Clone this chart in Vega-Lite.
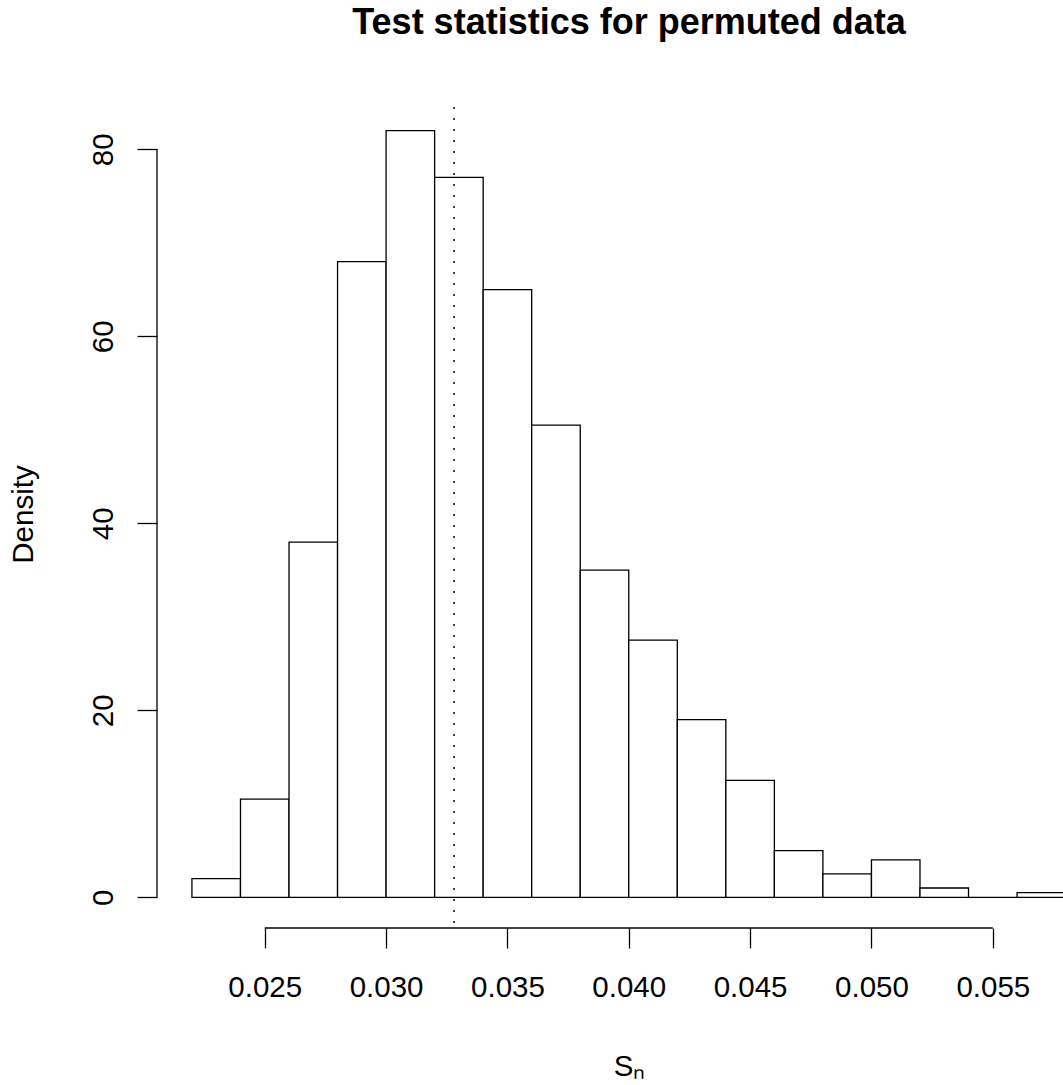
{
  "$schema": "https://vega.github.io/schema/vega-lite/v6.json",
  "width": 906,
  "height": 828,
  "autosize": {"type": "none"},
  "padding": {"left": 157, "top": 100, "right": 0, "bottom": 157},
  "background": "white",
  "config": {
    "font": "Liberation Sans",
    "view": {"stroke": null},
    "axis": {"grid": false, "domain": false, "labelColor": "black", "titleColor": "black", "tickColor": "black"}
  },
  "title": {
    "text": "Test statistics for permuted data",
    "fontSize": 36,
    "fontWeight": "bold",
    "color": "black",
    "anchor": "middle",
    "baseline": "alphabetic",
    "offset": 29,
    "dx": 19
  },
  "datasets": {
    "bins": [
      {"start": 0.022, "end": 0.024, "density": 2},
      {"start": 0.024, "end": 0.026, "density": 10.5},
      {"start": 0.026, "end": 0.028, "density": 38},
      {"start": 0.028, "end": 0.030, "density": 68},
      {"start": 0.030, "end": 0.032, "density": 82},
      {"start": 0.032, "end": 0.034, "density": 77},
      {"start": 0.034, "end": 0.036, "density": 65},
      {"start": 0.036, "end": 0.038, "density": 50.5},
      {"start": 0.038, "end": 0.040, "density": 35},
      {"start": 0.040, "end": 0.042, "density": 27.5},
      {"start": 0.042, "end": 0.044, "density": 19},
      {"start": 0.044, "end": 0.046, "density": 12.5},
      {"start": 0.046, "end": 0.048, "density": 5},
      {"start": 0.048, "end": 0.050, "density": 2.5},
      {"start": 0.050, "end": 0.052, "density": 4},
      {"start": 0.052, "end": 0.054, "density": 1},
      {"start": 0.054, "end": 0.056, "density": 0},
      {"start": 0.056, "end": 0.058, "density": 0.5}
    ],
    "xaxis": [{"from": 0.025, "to": 0.055}],
    "yaxis": [{"from": 0, "to": 80}],
    "observed": [{"stat": 0.0328}]
  },
  "layer": [
    {
      "data": {"name": "bins"},
      "mark": {"type": "rect", "fill": "white", "stroke": "black", "strokeWidth": 1.3, "clip": true},
      "encoding": {
        "x": {
          "field": "start",
          "type": "quantitative",
          "scale": {"domain": [0.02056, 0.057893], "nice": false, "zero": false},
          "axis": {
            "values": [0.025, 0.03, 0.035, 0.04, 0.045, 0.05, 0.055],
            "format": ".3f",
            "tickSize": 20,
            "tickWidth": 1.3,
            "labelFontSize": 29.5,
            "labelBaseline": "alphabetic",
            "labelPadding": 48,
            "labelFlush": false,
            "labelOverlap": false,
            "title": "Sₙ",
            "titleFontSize": 29.5,
            "titleFontWeight": "normal",
            "titleBaseline": "alphabetic",
            "titleAlign": "center",
            "titleX": 472,
            "titleY": 147
          }
        },
        "x2": {"field": "end"},
        "y": {
          "field": "density",
          "type": "quantitative",
          "scale": {"domain": [-3.28, 85.28], "nice": false, "zero": false},
          "axis": {
            "values": [0, 20, 40, 60, 80],
            "tickSize": 20,
            "tickWidth": 1.3,
            "labelFontSize": 29.5,
            "labelAngle": -90,
            "labelAlign": "center",
            "labelBaseline": "alphabetic",
            "labelPadding": 25,
            "labelOverlap": false,
            "title": "Density",
            "titleFontSize": 29.5,
            "titleFontWeight": "normal",
            "titleAngle": -90,
            "titleBaseline": "alphabetic",
            "titleAlign": "center",
            "titleX": -125,
            "titleY": 414
          }
        },
        "y2": {"datum": 0}
      }
    },
    {
      "data": {"name": "xaxis"},
      "mark": {"type": "rule", "color": "black", "strokeWidth": 1.3},
      "encoding": {
        "x": {"field": "from", "type": "quantitative"},
        "x2": {"field": "to"},
        "y": {"datum": -3.28}
      }
    },
    {
      "data": {"name": "yaxis"},
      "mark": {"type": "rule", "color": "black", "strokeWidth": 1.3},
      "encoding": {
        "y": {"field": "from", "type": "quantitative"},
        "y2": {"field": "to"},
        "x": {"datum": 0.02056}
      }
    },
    {
      "data": {"name": "observed"},
      "mark": {"type": "rule", "color": "black", "strokeWidth": 1.5, "strokeDash": [2, 9], "strokeDashOffset": 4},
      "encoding": {
        "x": {"field": "stat", "type": "quantitative"},
        "y": {"datum": 85.28},
        "y2": {"datum": -3.28}
      }
    }
  ]
}
